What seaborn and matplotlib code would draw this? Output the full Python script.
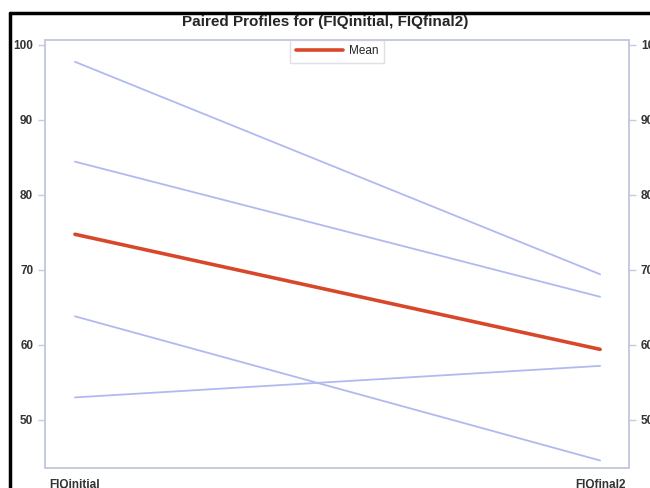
import matplotlib
matplotlib.use("Agg")
import matplotlib.pyplot as plt
from matplotlib.lines import Line2D
import seaborn as sns
import pandas as pd

# paired values
times = ["FIQinitial", "FIQfinal2"]
subjects = ["s1", "s2", "s3", "s4"]
fiq_initial = [97.7, 84.4, 63.8, 53.0]
fiq_final2 = [69.4, 66.4, 44.6, 57.2]

df = pd.DataFrame({
    "subject": subjects * 2,
    "time": [times[0]] * 4 + [times[1]] * 4,
    "value": fiq_initial + fiq_final2,
})

sns.set_style("white")
plt.rcParams['font.family'] = ['Liberation Sans', 'DejaVu Sans']

fig = plt.figure(figsize=(6.5, 4.88), dpi=100)
ax = fig.add_axes([45/650, 1-468/488, (629-45)/650, (468-40)/488])

sns.lineplot(data=df, x="time", y="value", units="subject", estimator=None,
             color="#b0baf0", linewidth=1.3, ax=ax, legend=False)
sns.lineplot(data=df, x="time", y="value", estimator="mean", errorbar=None,
             color="#d9472b", linewidth=2.6, ax=ax, label="Mean")

ax.set_xlim(-0.057, 1.055)
ax.set_ylim(43.6, 100.6)
ax.set_yticks([50, 60, 70, 80, 90, 100])
ax.set_xlabel("")
ax.set_ylabel("")

spine_col = "#c6cae0"
for s in ax.spines.values():
    s.set_color(spine_col)
    s.set_linewidth(1.2)
ax.tick_params(axis="both", colors=spine_col, labelcolor="#333333",
               length=5, width=1, labelsize=8.5)
ax.tick_params(axis="x", pad=3)

ax2 = ax.twinx()
ax2.set_ylim(ax.get_ylim())
ax2.set_yticks([50, 60, 70, 80, 90, 100])
for s in ax2.spines.values():
    s.set_color(spine_col)
    s.set_linewidth(1.2)
ax2.tick_params(axis="y", colors=spine_col, labelcolor="#333333",
                length=5, width=1, labelsize=8.5)

for lbl in ax.get_yticklabels() + ax2.get_yticklabels() + ax.get_xticklabels():
    lbl.set_fontweight("bold")

leg = ax.legend(loc="upper center", frameon=True, fontsize=8.5,
                handlelength=4, borderpad=0.15, handletextpad=0.5,
                borderaxespad=0.3, bbox_to_anchor=(0.5, 1.0))
leg.get_frame().set_edgecolor("#d8d8e0")
leg.get_frame().set_boxstyle("square")

fig.suptitle("Paired Profiles for (FIQinitial, FIQfinal2)", y=1-22/488,
             va="center", fontsize=11, fontweight="bold")

# screenshot frame at the top and left edges
fig.add_artist(Line2D([10/650, 10/650], [0, 1-13/488], color="black",
                      linewidth=2.5, transform=fig.transFigure))
fig.add_artist(Line2D([10/650, 1], [1-13/488, 1-13/488], color="black",
                      linewidth=2.5, transform=fig.transFigure))

fig.savefig("out.png", dpi=100)
